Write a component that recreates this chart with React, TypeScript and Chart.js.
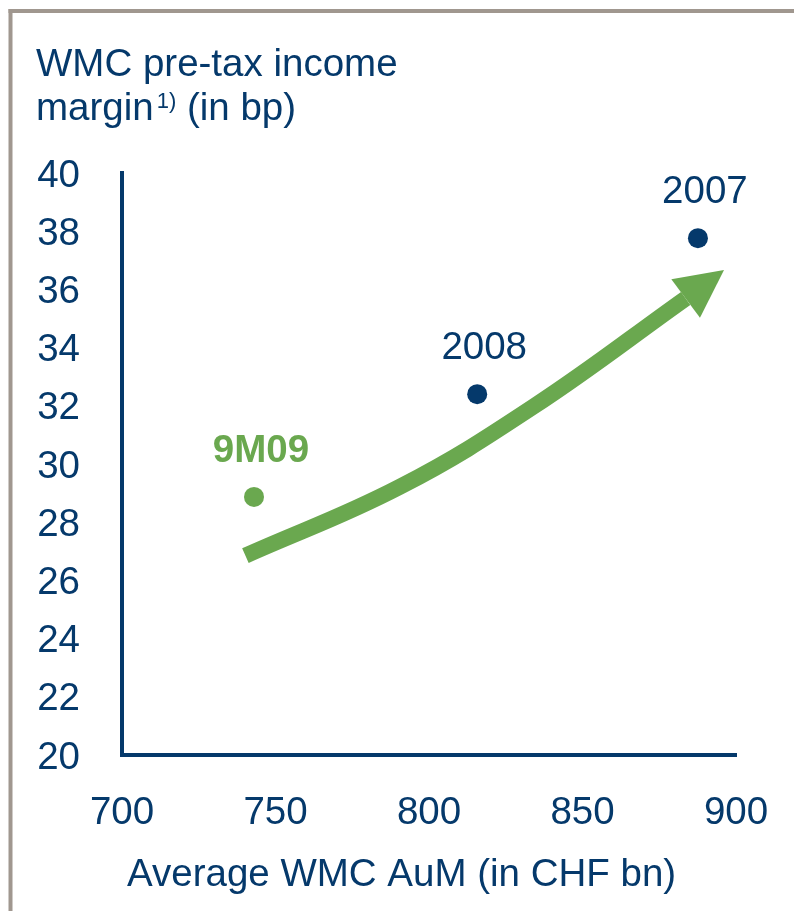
import React, { useEffect, useRef } from "react";
import { Chart, registerables } from "chart.js";

Chart.register(...registerables);

const NAVY = "#05396b";
const GREEN = "#6aa84f";
const FRAME = "#a0978f";
const FONT = "'Liberation Sans', Arial, Helvetica, sans-serif";
const TEXT_SIZE = 38.5;

// Observations: average assets under management (CHF bn) vs. pre-tax margin (bp)
const periods = ["9M09", "2008", "2007"];
const avgAuM = [743, 815.7, 887.6];
const marginBp = [28.87, 32.4, 37.76];
const periodColors = [GREEN, NAVY, NAVY];
const periodBold = [true, false, false];

// Axis ranges and tick steps
const xMin = 700;
const xMax = 900;
const xStep = 50;
const yMin = 20;
const yMax = 40;
const yStep = 2;

// Trend arrow: shaft path and tip, in data units
const trendAuM = [740.2, 790.6, 834.0, 883.6];
const trendBp = [26.85, 29.22, 31.97, 35.69];
const trendTip = { x: 896.1, y: 36.67 };

const titleLine1 = "WMC pre-tax income";
const titleLine2 = "margin";
const titleNote = "1)";
const titleUnit = " (in bp)";
const xAxisTitle = "Average WMC AuM (in CHF bn)";

const decorPlugin = {
  id: "decor",
  beforeDraw(chart: any) {
    const { ctx } = chart;
    ctx.save();
    ctx.fillStyle = "#ffffff";
    ctx.fillRect(0, 0, chart.width, chart.height);
    // left and top frame rule
    ctx.fillStyle = FRAME;
    ctx.fillRect(8.5, 9, 4, chart.height - 9);
    ctx.fillRect(8.5, 9, chart.width - 8.5, 4);
    ctx.restore();
  },
  afterDatasetsDraw(chart: any) {
    const { ctx } = chart;
    const xs = chart.scales.x;
    const ys = chart.scales.y;

    // arrow head at the end of the trend shaft
    const lastIdx = trendAuM.length - 1;
    const bx = xs.getPixelForValue(trendAuM[lastIdx]);
    const by = ys.getPixelForValue(trendBp[lastIdx]);
    const tx = xs.getPixelForValue(trendTip.x);
    const ty = ys.getPixelForValue(trendTip.y);
    const dx = tx - bx;
    const dy = ty - by;
    const len = Math.hypot(dx, dy) || 1;
    const nx = -dy / len;
    const ny = dx / len;
    const half = 24;
    ctx.save();
    ctx.fillStyle = GREEN;
    ctx.beginPath();
    ctx.moveTo(tx, ty);
    ctx.lineTo(bx + nx * half, by + ny * half);
    ctx.lineTo(bx - nx * half, by - ny * half);
    ctx.closePath();
    ctx.fill();

    // period labels above each point
    ctx.textAlign = "center";
    ctx.textBaseline = "alphabetic";
    periods.forEach((p, i) => {
      const px = xs.getPixelForValue(avgAuM[i]);
      const py = ys.getPixelForValue(marginBp[i]);
      ctx.font = `${periodBold[i] ? "bold " : ""}${TEXT_SIZE}px ${FONT}`;
      ctx.fillStyle = periodColors[i];
      ctx.fillText(p, px + 7, py - 35);
    });
    ctx.restore();
  },
  afterDraw(chart: any) {
    const { ctx } = chart;
    ctx.save();
    ctx.fillStyle = NAVY;
    ctx.textAlign = "left";
    ctx.textBaseline = "alphabetic";
    ctx.font = `${TEXT_SIZE}px ${FONT}`;
    ctx.fillText(titleLine1, 36, 76);
    ctx.fillText(titleLine2, 36, 120);
    let x = 36 + ctx.measureText(titleLine2).width + 3;
    ctx.font = `22px ${FONT}`;
    ctx.fillText(titleNote, x, 108);
    x += ctx.measureText(titleNote).width;
    ctx.font = `${TEXT_SIZE}px ${FONT}`;
    ctx.fillText(titleUnit, x, 120);
    ctx.fillText(xAxisTitle, 127, 886);
    ctx.restore();
  },
};

export default function App() {
  const canvasRef = useRef<HTMLCanvasElement | null>(null);

  useEffect(() => {
    const canvas = canvasRef.current;
    if (!canvas) return;

    const chart = new Chart(canvas, {
      type: "scatter",
      data: {
        datasets: [
          {
            label: "Periods",
            data: avgAuM.map((v, i) => ({ x: v, y: marginBp[i] })),
            pointRadius: 10,
            pointBorderWidth: 0,
            pointBackgroundColor: periodColors,
            pointBorderColor: periodColors,
            showLine: false,
            clip: false as any,
            order: 1,
          },
          {
            label: "Trend",
            data: trendAuM.map((v, i) => ({ x: v, y: trendBp[i] })),
            showLine: true,
            borderColor: GREEN,
            borderWidth: 16,
            borderCapStyle: "butt",
            tension: 0.4,
            pointRadius: 0,
            clip: false as any,
            order: 2,
          },
        ],
      },
      options: {
        animation: false,
        responsive: false,
        events: [],
        layout: { padding: { top: 173, right: 58, left: 0, bottom: 0 } },
        plugins: {
          legend: { display: false },
          tooltip: { enabled: false },
          title: { display: false },
        },
        scales: {
          x: {
            type: "linear",
            min: xMin,
            max: xMax,
            grid: { display: false, drawTicks: false },
            border: { display: true, color: NAVY, width: 4 },
            ticks: {
              stepSize: xStep,
              color: NAVY,
              padding: 35,
              font: { family: FONT, size: TEXT_SIZE },
            },
            afterFit: (s: any) => {
              s.height = 156;
              s.paddingLeft = 0;
              s.paddingRight = 0;
            },
          },
          y: {
            type: "linear",
            min: yMin,
            max: yMax,
            grid: { display: false, drawTicks: false },
            border: { display: true, color: NAVY, width: 4 },
            ticks: {
              stepSize: yStep,
              color: NAVY,
              padding: 42,
              labelOffset: 3,
              font: { family: FONT, size: TEXT_SIZE },
            },
            afterFit: (s: any) => {
              s.width = 122;
              s.paddingTop = 0;
              s.paddingBottom = 0;
            },
          },
        },
      },
      plugins: [decorPlugin],
    });

    return () => chart.destroy();
  }, []);

  return (
    <div
      style={{
        position: "absolute",
        left: 0,
        top: 0,
        width: 794,
        height: 911,
        background: "#ffffff",
      }}
    >
      <canvas ref={canvasRef} width={794} height={911} />
    </div>
  );
}
